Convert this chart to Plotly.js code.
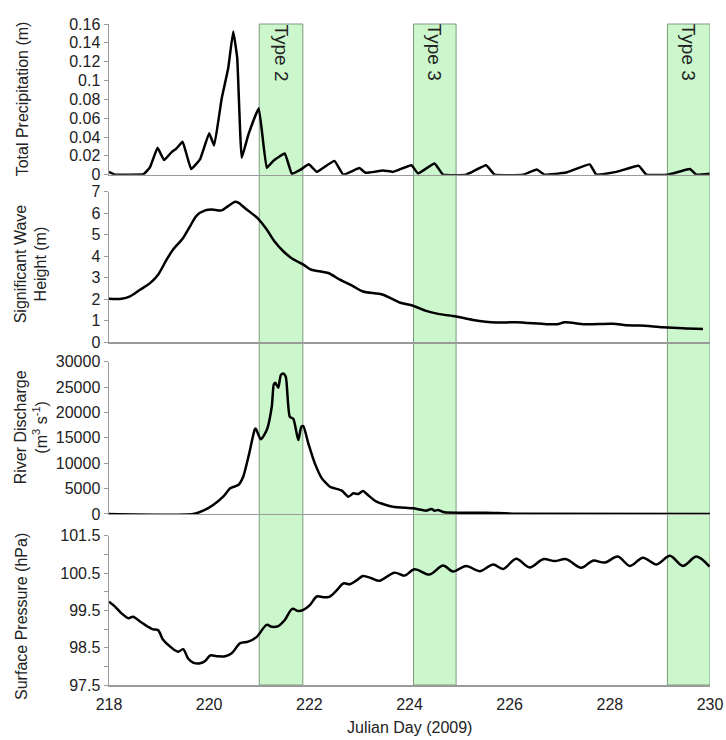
<!DOCTYPE html>
<html>
<head>
<meta charset="utf-8">
<script src="https://cdn.plot.ly/plotly-3.0.1.min.js"></script>
<style>html,body{margin:0;padding:0;background:#fff;}#chart{width:726px;height:740px;}</style>
</head>
<body>
<div id="chart"></div>
<script>
// ---- Data ----
const precipDay = [218.0,218.12,218.4,218.69,218.82,218.97,219.10,219.25,219.35,219.47,219.64,219.82,220.0,220.10,220.25,220.38,220.48,220.56,220.65,220.78,220.99,221.15,221.28,221.51,221.65,221.81,221.99,222.15,222.50,222.68,223.0,223.12,223.47,223.67,224.04,224.17,224.50,224.67,225.13,225.53,225.70,226.27,226.54,226.70,227.13,227.60,227.73,228.13,228.58,228.73,229.16,229.60,229.73,229.99];
const precipVal = [0.003,0.0,0.0,0.0005,0.008,0.0286,0.0155,0.024,0.028,0.035,0.006,0.0165,0.044,0.031,0.081,0.113,0.152,0.124,0.018,0.042,0.0706,0.0073,0.0147,0.0226,0.001,0.0048,0.011,0.003,0.0147,0.0,0.007,0.002,0.0045,0.003,0.010,0.0013,0.012,0.0,0.0,0.010,0.0,0.0,0.0055,0.0,0.0023,0.011,0.0,0.003,0.0094,0.0,0.0,0.006,0.0,0.001];

const waveDay = [218.0,218.25,218.42,218.62,218.82,218.98,219.15,219.28,219.48,219.62,219.75,219.92,220.05,220.25,220.38,220.52,220.58,220.75,220.98,221.15,221.31,221.48,221.64,221.88,222.04,222.21,222.38,222.61,222.88,223.07,223.47,223.80,224.07,224.33,224.57,224.93,225.27,225.73,226.13,226.73,226.95,227.10,227.50,228.06,228.33,228.6,229.06,229.46,229.86];
const waveVal = [2.02,2.02,2.13,2.44,2.75,3.14,3.84,4.31,4.85,5.40,5.89,6.13,6.17,6.13,6.33,6.53,6.49,6.17,5.74,5.24,4.67,4.23,3.92,3.61,3.37,3.30,3.22,2.91,2.60,2.36,2.21,1.85,1.70,1.46,1.32,1.20,1.04,0.92,0.93,0.84,0.84,0.93,0.84,0.86,0.79,0.78,0.70,0.65,0.62];

const dischargeDay = [218.0,219.68,219.88,220.08,220.28,220.42,220.58,220.68,220.80,220.91,220.93,221.03,221.15,221.25,221.29,221.32,221.38,221.43,221.48,221.53,221.61,221.68,221.78,221.84,221.88,221.98,222.11,222.25,222.41,222.51,222.65,222.78,222.88,222.98,223.07,223.17,223.34,223.67,224.07,224.33,224.44,224.50,224.57,224.70,225.07,225.53,226.07,230.0];
const dischargeVal = [0,0,650,1770,3410,5050,5710,7350,11940,16660,16860,14700,16530,21120,25500,25850,24860,27360,27680,27030,19150,18760,14560,17190,17320,13900,9970,7020,5380,5050,4590,3410,4070,3940,4530,3740,2430,1440,1120,660,980,650,790,330,260,260,70,0];

const pressureDay = [218.0,218.12,218.25,218.39,218.48,218.62,218.78,218.88,218.98,219.08,219.22,219.38,219.48,219.58,219.68,219.82,219.92,220.02,220.15,220.32,220.45,220.62,220.78,220.95,221.15,221.25,221.38,221.51,221.66,221.78,221.88,222.01,222.15,222.28,222.41,222.55,222.68,222.81,222.95,223.07,223.24,223.40,223.70,223.90,224.10,224.40,224.67,224.87,225.13,225.40,225.67,225.87,226.13,226.40,226.67,226.90,227.13,227.43,227.66,227.90,228.16,228.40,228.66,228.93,229.20,229.46,229.73,229.99];
const pressureVal = [99.73,99.60,99.42,99.29,99.33,99.20,99.06,98.99,98.97,98.71,98.53,98.39,98.46,98.21,98.10,98.08,98.14,98.29,98.27,98.27,98.35,98.62,98.66,98.79,99.11,99.06,99.08,99.24,99.54,99.48,99.51,99.64,99.87,99.85,99.87,100.04,100.22,100.20,100.31,100.42,100.36,100.29,100.51,100.43,100.60,100.46,100.70,100.54,100.69,100.55,100.73,100.61,100.88,100.65,100.87,100.82,100.87,100.64,100.83,100.78,100.94,100.69,100.91,100.73,100.96,100.69,100.94,100.67];

const bandStart = [221.0, 224.08, 229.15];
const bandEnd = [221.87, 224.93, 230.0];
const bandLabel = ["Type 2", "Type 3", "Type 3"];

const xTicks = [218, 220, 222, 224, 226, 228, 230];
const precipTicks = [0, 0.02, 0.04, 0.06, 0.08, 0.1, 0.12, 0.14, 0.16];
const waveTicks = [0, 1, 2, 3, 4, 5, 6, 7];
const dischargeTicks = [0, 5000, 10000, 15000, 20000, 25000, 30000];
const pressureTicks = [97.5, 98.5, 99.5, 100.5, 101.5];

const yTitles = ["Total Precipitation (m)", "Significant Wave<br>Height (m)", "River Discharge<br>(m<sup>3</sup> s<sup>-1</sup>)", "Surface Pressure (hPa)"];
const xTitle = "Julian Day (2009)";

// ---- Chart ----
const FONT = 'Liberation Sans, Arial, sans-serif';
const AX = '#9a9a9a';
const lineStyle = {color: '#000', width: 2.5};

const traces = [
  {x: precipDay, y: precipVal, xaxis: 'x', yaxis: 'y', mode: 'lines', line: Object.assign({shape: 'spline', smoothing: 0.3}, lineStyle)},
  {x: waveDay, y: waveVal, xaxis: 'x2', yaxis: 'y2', mode: 'lines', line: Object.assign({shape: 'spline', smoothing: 0.8}, lineStyle)},
  {x: dischargeDay, y: dischargeVal, xaxis: 'x3', yaxis: 'y3', mode: 'lines', line: Object.assign({shape: 'spline', smoothing: 0.6}, lineStyle)},
  {x: pressureDay, y: pressureVal, xaxis: 'x4', yaxis: 'y4', mode: 'lines', line: Object.assign({shape: 'spline', smoothing: 0.9}, lineStyle)}
];

function xax(anchor, labels) {
  return {
    anchor: anchor, domain: [0, 1], range: [218, 230],
    tickvals: xTicks, ticktext: xTicks.map(String),
    showticklabels: labels, ticks: '', showgrid: false, zeroline: false,
    showline: true, linecolor: AX, linewidth: 1.5, ticklabelstandoff: 4,
    tickfont: {family: FONT, size: 16, color: '#222'}
  };
}
function yax(anchor, domain, range, tv, fmt) {
  return {
    anchor: anchor, domain: domain, range: range,
    tickvals: tv, ticktext: tv.map(fmt),
    ticks: 'outside', ticklen: 4, tickcolor: AX, tickwidth: 1,
    showgrid: false, zeroline: false, showline: true, linecolor: AX, linewidth: 1.5,
    tickfont: {family: FONT, size: 16, color: '#222'}
  };
}

const doms = [[0.772, 1.0], [0.5185, 0.7463], [0.2587, 0.4891], [0.0, 0.2259]];

const shapes = bandStart.map((s, i) => ({
  type: 'rect', xref: 'x', yref: 'paper', x0: s, x1: bandEnd[i], y0: 0, y1: 1,
  fillcolor: '#ccf7cc', line: {color: '#7e9a7e', width: 1}, layer: 'below'
}));

const annotations = bandStart.map((s, i) => ({
  text: bandLabel[i], xref: 'x', yref: 'paper', x: (s + bandEnd[i]) / 2, y: 1,
  xanchor: 'center', yanchor: 'top', yshift: 2, textangle: 90, showarrow: false,
  font: {family: FONT, size: 19, color: '#222'}
}));

const yCenters = [(doms[0][0] + doms[0][1]) / 2, (doms[1][0] + doms[1][1]) / 2 + 0.004, (doms[2][0] + doms[2][1]) / 2 + 0.016, (doms[3][0] + doms[3][1]) / 2 - 0.01];
const xShift = [-87, -78, -78, -87];
yTitles.forEach((t, i) => {
  annotations.push({
    text: t, xref: 'paper', yref: 'paper', x: 0, y: yCenters[i],
    xanchor: 'center', yanchor: 'middle', xshift: xShift[i], textangle: -90, showarrow: false,
    font: {family: FONT, size: 16, color: '#222'}
  });
});
annotations.push({
  text: xTitle, xref: 'paper', yref: 'paper', x: 0.5, y: 0, yanchor: 'middle', xanchor: 'center',
  yshift: -42, showarrow: false, font: {family: FONT, size: 16, color: '#222'}
});

const layout = {
  width: 726, height: 740,
  margin: {l: 109, r: 16, t: 24, b: 55},
  paper_bgcolor: '#fff', plot_bgcolor: 'rgba(0,0,0,0)',
  showlegend: false,
  font: {family: FONT, size: 16, color: '#222'},
  xaxis: xax('y', false),
  xaxis2: xax('y2', false),
  xaxis3: xax('y3', false),
  xaxis4: xax('y4', true),
  yaxis: yax('x', doms[0], [0, 0.16], precipTicks, String),
  yaxis2: yax('x2', doms[1], [0, 7], waveTicks, String),
  yaxis3: yax('x3', doms[2], [0, 30000], dischargeTicks, String),
  yaxis4: Object.assign(yax('x4', doms[3], [97.5, 101.5], pressureTicks, v => v.toFixed(1)), {minor: {tickvals: [98, 99, 100, 101], ticks: 'outside', ticklen: 4, tickcolor: AX}}),
  shapes: shapes,
  annotations: annotations
};

Plotly.newPlot('chart', traces, layout, {staticPlot: true, displayModeBar: false});
</script>
</body>
</html>
